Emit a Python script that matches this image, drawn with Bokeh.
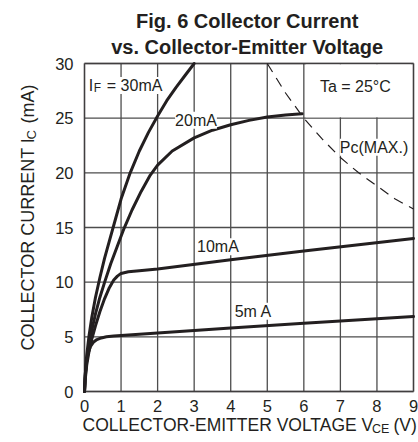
from math import pi
from bokeh.plotting import figure
from bokeh.models import Range1d, FixedTicker, Label, BoxAnnotation
from bokeh.embed import file_html
from bokeh.resources import INLINE

# ---- data ----
x_ticks = [0, 1, 2, 3, 4, 5, 6, 7, 8, 9]
y_ticks = [0, 5, 10, 15, 20, 25, 30]

v30 = [0, 0.02, 0.06, 0.12, 0.2, 0.3, 0.42, 0.55, 0.7, 0.85, 1.0, 1.25, 1.5, 1.75, 2.0, 2.25, 2.5, 2.75, 3.0]
i30 = [0, 1.5, 3.3, 5.0, 6.8, 8.6, 10.4, 12.2, 14.0, 15.8, 17.6, 20.0, 22.0, 23.7, 25.2, 26.6, 27.8, 28.9, 30.0]

v20 = [0, 0.02, 0.06, 0.12, 0.2, 0.3, 0.42, 0.56, 0.72, 0.9, 1.08, 1.3, 1.55, 1.8, 2.0, 2.4, 3.0, 3.5, 4.0, 4.5, 5.0, 5.5, 5.95]
i20 = [0, 1.3, 2.8, 4.2, 5.6, 7.1, 8.6, 10.1, 11.7, 13.3, 14.9, 16.6, 18.3, 19.8, 20.7, 22.0, 23.2, 23.9, 24.4, 24.8, 25.1, 25.3, 25.4]

v10 = [0, 0.02, 0.06, 0.12, 0.2, 0.3, 0.42, 0.55, 0.68, 0.8, 0.9, 1.0, 1.2, 1.5, 2.0, 4.0, 6.0, 9.0]
i10 = [0, 1.1, 2.4, 3.6, 4.8, 6.0, 7.3, 8.5, 9.5, 10.2, 10.55, 10.8, 10.95, 11.05, 11.2, 12.05, 12.85, 14.0]

v5 = [0, 0.02, 0.05, 0.1, 0.16, 0.24, 0.34, 0.46, 0.6, 0.8, 1.0, 2.0, 4.0, 6.0, 9.0]
i5 = [0, 1.5, 2.6, 3.5, 4.1, 4.5, 4.75, 4.9, 5.0, 5.07, 5.12, 5.35, 5.8, 6.25, 6.86]

pc_v = [5.0, 5.5, 6.0, 6.5, 7.0, 7.5, 8.0, 8.5, 9.0]
pc_i = [30.0, 27.3, 25.0, 23.1, 21.4, 20.0, 18.8, 17.6, 16.7]

X_MIN, X_MAX = 0, 9
Y_MIN, Y_MAX = 0, 30

INK = "#231f20"
FONT = "Liberation Sans"

# ---- layout: the frame fills the whole canvas; the data box sits inside it ----
W, H = 418, 442
BOX_L, BOX_T, BOX_W, BOX_H = 84, 63, 329, 328
sx = BOX_W / (X_MAX - X_MIN)
sy = BOX_H / (Y_MAX - Y_MIN)
x_range = Range1d(X_MIN - BOX_L / sx, X_MAX + (W - BOX_L - BOX_W) / sx)
y_range = Range1d(Y_MIN - (H - BOX_T - BOX_H) / sy, Y_MAX + BOX_T / sy)

p = figure(frame_width=W, frame_height=H, x_range=x_range, y_range=y_range,
           output_backend="svg", toolbar_location=None,
           min_border_left=0, min_border_right=0,
           min_border_top=0, min_border_bottom=0)
p.title.visible = False
p.background_fill_color = "white"
p.border_fill_color = "white"
p.outline_line_color = None
p.grid.visible = False

for ax, t, loc in ((p.xaxis, x_ticks, Y_MIN), (p.yaxis, y_ticks, X_MIN)):
    ax.ticker = FixedTicker(ticks=t)
    ax.fixed_location = loc
    ax.axis_line_color = None
    ax.major_tick_line_color = None
    ax.minor_tick_line_color = None
    ax.major_label_text_font = FONT
    ax.major_label_text_font_size = "16.5px"
    ax.major_label_text_color = INK
p.xaxis.major_label_standoff = 2
p.yaxis.major_label_standoff = 5

# grid lines, limited to the data box
nx, ny = len(x_ticks), len(y_ticks)
GRID = dict(line_color="#4d4d4d", line_width=1.3)
p.segment(x0=x_ticks, y0=[Y_MIN] * nx, x1=x_ticks, y1=[Y_MAX] * nx, **GRID)
p.segment(x0=[X_MIN] * ny, y0=y_ticks, x1=[X_MAX] * ny, y1=y_ticks, **GRID)

# curves
for v, i in ((v30, i30), (v20, i20), (v10, i10), (v5, i5)):
    p.line(v, i, line_color=INK, line_width=3, line_join="round", line_cap="round")
p.line(pc_v, pc_i, line_color=INK, line_width=1.2, line_dash="10 7")

# white box behind "Ta = 25°C"
p.add_layout(BoxAnnotation(left=6.06, right=8.94, bottom=25.08, top=29.94,
                           fill_color="white", fill_alpha=1, line_alpha=0))
# plot frame
p.add_layout(BoxAnnotation(left=X_MIN, right=X_MAX, bottom=Y_MIN, top=Y_MAX,
                           fill_alpha=0, line_color=INK, line_width=2))

def lab(x, y, text, size="16px", align="left", xo=0, yo=0, bg=True, angle=0, bold=False):
    kw = dict(x=x, y=y, text=text, x_offset=xo, y_offset=yo, angle=angle,
              text_font=FONT, text_font_size=size, text_color=INK,
              text_align=align, text_baseline="middle")
    if bold:
        kw["text_font_style"] = "bold"
    if bg:
        kw["background_fill_color"] = "white"
        kw["background_fill_alpha"] = 1
    p.add_layout(Label(**kw))

# in-plot annotations
lab(0.118, 27.99, "I")
lab(0.118, 27.99, "F", size="12px", xo=5, yo=-3)
lab(0.118, 27.99, "= 30mA", xo=18)
lab(7.41, 27.9, "Ta = 25°C", align="center", bg=False)
lab(3.05, 24.81, "20mA", align="center")
lab(7.92, 22.35, "Pc(MAX.)", align="center")
lab(3.65, 13.23, "10mA", align="center")
lab(4.62, 7.33, "5m A", align="center")

# title
lab(4.45, 33.9, "Fig. 6 Collector Current", size="20px", align="center", bg=False, bold=True)
lab(4.45, 31.48, "vs. Collector-Emitter Voltage", size="20px", align="center", bg=False, bold=True)

# x axis label
xl_x, xl_y = -0.055, -3.02
lab(xl_x, xl_y, "COLLECTOR-EMITTER VOLTAGE V", size="17.5px", bg=False)
lab(xl_x, xl_y, "CE", size="12.5px", xo=289.5, yo=-4, bg=False)
lab(xl_x, xl_y, "(V)", size="17.5px", xo=311, bg=False)

# y axis label (rotated)
yl_x, yl_y = -1.559, 3.75
lab(yl_x, yl_y, "COLLECTOR CURRENT I", size="18px", angle=pi / 2, bg=False)
lab(yl_x, yl_y, "C", size="13px", angle=pi / 2, xo=4, yo=211, bg=False)
lab(yl_x, yl_y, "(mA)", size="18px", angle=pi / 2, yo=227, bg=False)

open("out.html", "w").write(file_html(p, INLINE))
